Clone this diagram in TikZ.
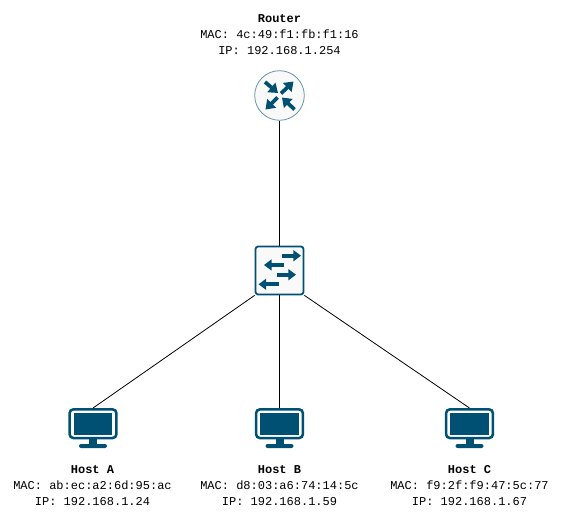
\documentclass[tikz,border=0pt]{standalone}
\usepackage{fontspec}
\setmonofont{Liberation Mono}
\usetikzlibrary{calc,arrows.meta,positioning}
\definecolor{bluex}{HTML}{005073}
\definecolor{softbg}{HTML}{F9F9F9}
\tikzset{
  rt/.style={circle,draw=bluex!60,line width=0.6pt,fill=softbg,minimum size=37.2pt,inner sep=0pt},
  sw/.style={draw=bluex,line width=1.3pt,rounded corners=2pt,fill=softbg,minimum width=36pt,minimum height=36pt,inner sep=0pt},
  mon/.style={draw=bluex,line width=1.9pt,rounded corners=3pt,fill=white,minimum width=35.2pt,minimum height=21.6pt,inner sep=0pt},
  lbl/.style={font=\ttfamily\fontsize{9}{12}\selectfont,align=center,inner sep=0pt,anchor=base},
  ar/.style={-{Triangle[length=5.8pt,width=8.2pt]},line width=3pt,bluex},
  arr/.style={-{Triangle[length=6.5pt,width=9pt]},line width=2.8pt,bluex},
  ln/.style={draw=black,line width=0.6pt}
}
\begin{document}
\begin{tikzpicture}[x=0.75pt,y=-0.75pt]
\useasboundingbox (0,0) rectangle (564,520);
\fill[white] (0,0) rectangle (564,520);
\node[rt] (router) at (279.5,95.5) {};
\node[sw] (switch) at (279.5,270.5) {};
% monitors with screen and stand
\foreach \hostname/\hx in {hosta/93,hostb/279.5,hostc/469.5}{
  \node[mon] (\hostname) at (\hx,423.7) {};
  \fill[bluex] (\hx-19.3,412.7) rectangle (\hx+19.3,434.6);
  \fill[bluex] (\hx-4,439) rectangle (\hx+4,445);
  \fill[bluex,rounded corners=1.5pt] (\hx-14,444) rectangle (\hx+14,448);
}
\draw[ln] (router) -- (switch);
\draw[ln] (switch.south west) -- (hosta.north);
\draw[ln] (switch.south) -- (hostb.north);
\draw[ln] (switch.south east) -- (hostc.north);
% router arrows
\draw[arr] (265,82) -- (278,93);
\draw[arr] (281,93.5) -- (293.5,81.5);
\draw[arr] (277.5,97.5) -- (265.5,109.5);
\draw[arr] (294.5,109.5) -- (282,97.5);
% switch arrows
\draw[ar] (281.5,255.7) -- (301,255.7);
\draw[ar] (283.5,265) -- (264,265);
\draw[ar] (276.5,274.7) -- (296,274.7);
\draw[ar] (278.5,284.3) -- (258.5,284.3);
% labels
\node[lbl] (routertxt) at (279.5,55) {\textbf{Router}\\MAC: 4c:49:f1:fb:f1:16\\IP: 192.168.1.254};
\node[lbl] (hostatxt) at (92.5,505) {\textbf{Host A}\\MAC: ab:ec:a2:6d:95:ac\\IP: 192.168.1.24};
\node[lbl] (hostbtxt) at (279.5,505) {\textbf{Host B}\\MAC: d8:03:a6:74:14:5c\\IP: 192.168.1.59};
\node[lbl] (hostctxt) at (469.5,505) {\textbf{Host C}\\MAC: f9:2f:f9:47:5c:77\\IP: 192.168.1.67};
\end{tikzpicture}
\end{document}
